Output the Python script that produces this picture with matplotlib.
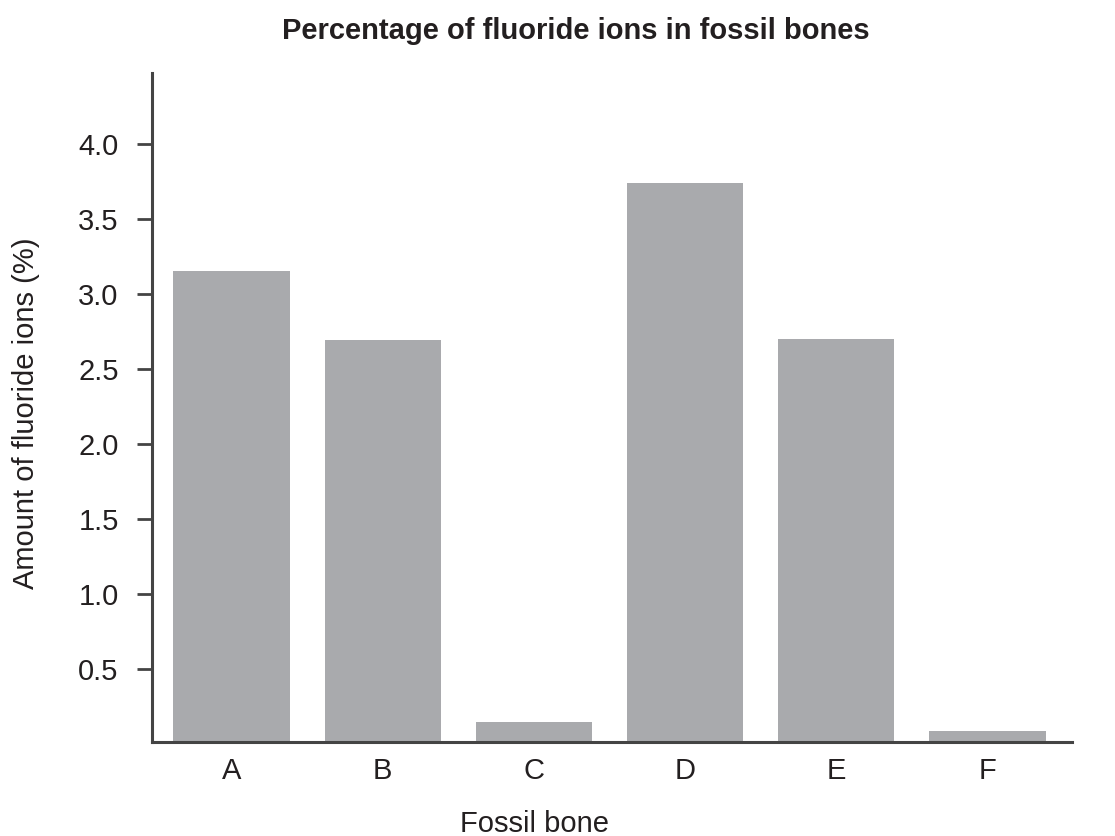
import matplotlib
matplotlib.use("Agg")
import matplotlib.pyplot as plt

categories = ["A", "B", "C", "D", "E", "F"]
values = [3.15, 2.69, 0.15, 3.74, 2.70, 0.09]
yticks = [0.5, 1.0, 1.5, 2.0, 2.5, 3.0, 3.5, 4.0]

plt.rcParams['font.family'] = ['Liberation Sans', 'DejaVu Sans']

fig = plt.figure(figsize=(11.15, 8.36), dpi=100)
ax = fig.add_axes([0.1363, 0.1124, 0.8251, 0.8003])

x = list(range(len(categories)))
ax.bar(x, values, width=0.77, color="#a9aaad", zorder=1, clip_on=False)

ax.set_xlim(-0.527, 5.56)
ax.set_ylim(0.015, 4.47)
ax.set_yticks(yticks)
ax.set_yticklabels([f"{v:.1f}" for v in yticks])
ax.set_xticks(x)
ax.set_xticklabels(categories)

for s in ["top", "right"]:
    ax.spines[s].set_visible(False)
for s in ["left", "bottom"]:
    ax.spines[s].set_color("#444444")
    ax.spines[s].set_linewidth(2.2)
    ax.spines[s].set_zorder(3)

ax.tick_params(axis="y", length=11, width=2, color="#444444", labelsize=21, pad=13, labelcolor="#231f20")
ax.tick_params(axis="x", length=0, labelsize=21, pad=11, labelcolor="#231f20")

ax.set_xlabel("Fossil bone", fontsize=21, color="#231f20", va="baseline")
ax.xaxis.set_label_coords((535 - 152) / 920.0, (742 - 832) / 669.0)
ax.set_ylabel("Amount of fluoride ions (%)", fontsize=21, color="#231f20", va="center")
ax.yaxis.set_label_coords((26 - 152) / 920.0, 0.491)
fig.text(576 / 1115, 1 - 31 / 836, "Percentage of fluoride ions in fossil bones",
         fontsize=21, fontweight="bold", ha="center", va="center", color="#231f20")

fig.savefig("out.png", dpi=100)
